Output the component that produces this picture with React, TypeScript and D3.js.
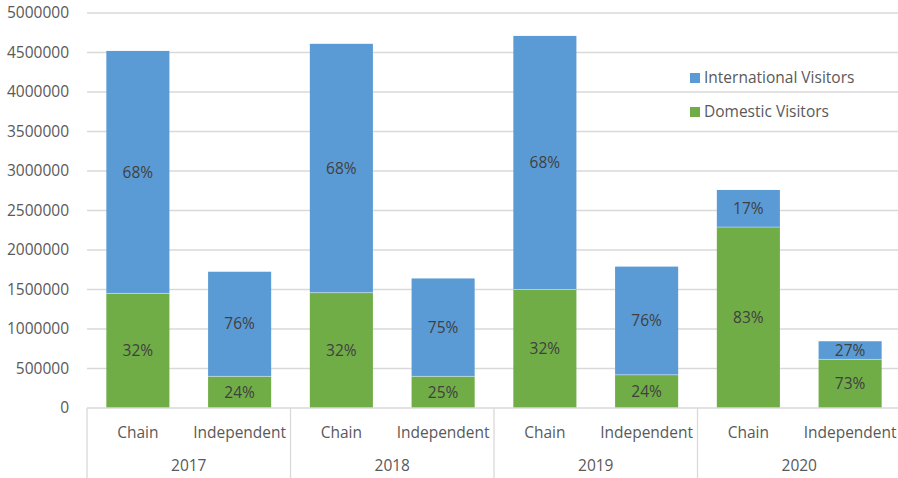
import React, { useEffect, useRef } from 'react';
import * as d3 from 'd3';

const years = ['2017', '2018', '2019', '2020'];
const hotelTypes = ['Chain', 'Independent'];
const domestic = [1450000, 400000, 1460000, 400000, 1500000, 420000, 2290000, 615000];
const international = [3070000, 1325000, 3150000, 1240000, 3210000, 1370000, 470000, 230000];
const domesticPct = ['32%', '24%', '32%', '25%', '32%', '24%', '83%', '73%'];
const internationalPct = ['68%', '76%', '68%', '75%', '68%', '76%', '17%', '27%'];
const yTicks = [0, 500000, 1000000, 1500000, 2000000, 2500000, 3000000, 3500000, 4000000, 4500000, 5000000];
const seriesNames = ['International Visitors', 'Domestic Visitors'];

const W = 898;
const H = 478;
const FONT = '"Open Sans", sans-serif';
const FS = 15.5;
const BLUE = '#5b9bd5';
const GREEN = '#70ad47';

function App() {
  const ref = useRef<SVGSVGElement>(null);

  useEffect(() => {
    const svg = d3.select(ref.current);
    svg.selectAll('*').remove();

    const left = 87, right = 901, top = 13, bottom = 408;

    const keys: string[] = [];
    years.forEach(y => hotelTypes.forEach(t => keys.push(y + '|' + t)));

    const x = d3.scaleBand<string>().domain(keys).range([left, right]).paddingInner(0.38).paddingOuter(0.19);
    const xYear = d3.scaleBand<string>().domain(years).range([left, right]);
    const y = d3.scaleLinear().domain([0, 5000000]).range([bottom, top]);

    // gridlines
    svg.append('g').selectAll('line').data(yTicks.filter(d => d > 0)).enter().append('line')
      .attr('x1', left).attr('x2', W)
      .attr('y1', d => y(d)).attr('y2', d => y(d))
      .attr('stroke', '#d9d9d9').attr('stroke-width', 1.3);

    // y labels
    svg.append('g').selectAll('text').data(yTicks).enter().append('text')
      .attr('x', 69).attr('y', d => y(d)).attr('dy', '0.35em')
      .attr('text-anchor', 'end').attr('font-family', FONT).attr('font-size', FS)
      .attr('fill', '#595959').text(d => String(d));

    const bars = svg.append('g');
    keys.forEach((k, i) => {
      const x0 = x(k)!;
      const bw = x.bandwidth();
      const d0 = domestic[i];
      const d1 = domestic[i] + international[i];
      bars.append('rect').attr('x', x0).attr('width', bw)
        .attr('y', y(d0)).attr('height', y(0) - y(d0)).attr('fill', GREEN);
      bars.append('rect').attr('x', x0).attr('width', bw)
        .attr('y', y(d1)).attr('height', y(d0) - y(d1)).attr('fill', BLUE);
      bars.append('line').attr('x1', x0).attr('x2', x0 + bw)
        .attr('y1', y(d0)).attr('y2', y(d0)).attr('stroke', '#ffffff').attr('stroke-opacity', 0.5).attr('stroke-width', 0.8);

      bars.append('text').attr('x', x0 + bw / 2).attr('y', (y(0) + y(d0)) / 2).attr('dy', '0.35em')
        .attr('text-anchor', 'middle').attr('font-family', FONT).attr('font-size', FS)
        .attr('fill', '#404040').text(domesticPct[i]);
      bars.append('text').attr('x', x0 + bw / 2).attr('y', (y(d0) + y(d1)) / 2).attr('dy', '0.35em')
        .attr('text-anchor', 'middle').attr('font-family', FONT).attr('font-size', FS)
        .attr('fill', '#404040').text(internationalPct[i]);
    });

    // category axis
    const axis = svg.append('g');
    axis.append('line').attr('x1', left).attr('x2', W).attr('y1', bottom).attr('y2', bottom)
      .attr('stroke', '#d9d9d9').attr('stroke-width', 1.3);
    years.forEach(yr => {
      const gx = xYear(yr)!;
      axis.append('line').attr('x1', gx).attr('x2', gx).attr('y1', bottom).attr('y2', H)
        .attr('stroke', '#d9d9d9').attr('stroke-width', 1.3);
      axis.append('text').attr('x', gx + xYear.bandwidth() / 2).attr('y', 466).attr('dy', '0.35em')
        .attr('text-anchor', 'middle').attr('font-family', FONT).attr('font-size', FS)
        .attr('fill', '#595959').text(yr);
    });
    keys.forEach(k => {
      axis.append('text').attr('x', x(k)! + x.bandwidth() / 2).attr('y', 433).attr('dy', '0.35em')
        .attr('text-anchor', 'middle').attr('font-family', FONT).attr('font-size', FS)
        .attr('fill', '#595959').text(k.split('|')[1]);
    });

    // legend
    const legend = svg.append('g');
    seriesNames.forEach((name, i) => {
      const ly = 78 + i * 34;
      legend.append('rect').attr('x', 690).attr('y', ly - 5).attr('width', 10).attr('height', 10)
        .attr('fill', i === 0 ? BLUE : GREEN);
      legend.append('text').attr('x', 704).attr('y', ly).attr('dy', '0.35em')
        .attr('font-family', FONT).attr('font-size', FS).attr('fill', '#595959').text(name);
    });
  }, []);

  return (
    <svg ref={ref} width={W} height={H}
      style={{ position: 'absolute', left: 0, top: 0, background: '#ffffff' }} />
  );
}

export default App;
